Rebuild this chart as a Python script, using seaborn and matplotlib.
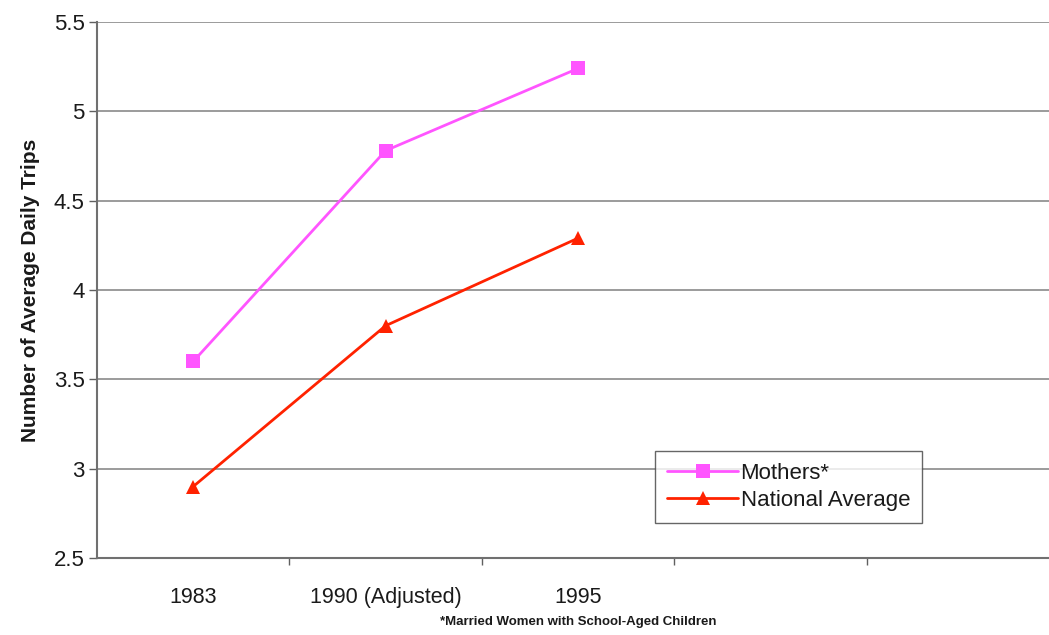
import matplotlib
matplotlib.use("Agg")
import matplotlib.pyplot as plt
import seaborn as sns
import pandas as pd
from matplotlib.ticker import FixedLocator, MultipleLocator

categories = ["1983", "1990 (Adjusted)", "1995"]
mothers = [3.6, 4.78, 5.24]
national = [2.9, 3.8, 4.29]
series_names = ["Mothers*", "National Average"]
footnote = "*Married Women with School-Aged Children"
ylabel = "Number of Average Daily Trips"

sns.set_theme(style="white")
plt.rcParams['font.family'] = ['Liberation Sans', 'DejaVu Sans']

fig = plt.figure(figsize=(10.49, 6.35), dpi=100)
W, H = 1049, 635
left, right, top, bottom = 97, 1059, 22, 558
ax = fig.add_axes([left / W, 1 - bottom / H, (right - left) / W, (bottom - top) / H])

pos = list(range(len(categories)))
df = pd.DataFrame({
    "x": pos * 2,
    "y": mothers + national,
    "s": [series_names[0]] * 3 + [series_names[1]] * 3,
})
sns.lineplot(data=df, x="x", y="y", hue="s", style="s",
             palette={series_names[0]: "#FF55FF", series_names[1]: "#FF2200"},
             markers={series_names[0]: "s", series_names[1]: "^"},
             dashes=False, markersize=10, markeredgewidth=0, linewidth=2,
             ax=ax)

ax.set_xlim(-0.5, 4.5)
ax.set_ylim(2.5, 5.5)
ax.yaxis.set_major_locator(MultipleLocator(0.5))
ax.set_yticklabels([f"{v:g}" for v in ax.get_yticks()])
ax.grid(axis="y", color="#8a8a8a", linewidth=1.2)
ax.set_axisbelow(True)

ax.set_xticks(pos)
ax.set_xticklabels(categories, fontsize=15.5, color="#1a1a1a")
ax.xaxis.set_minor_locator(FixedLocator([0.5, 1.5, 2.5, 3.5]))
ax.tick_params(axis="x", which="major", length=0, pad=21)
ax.tick_params(axis="x", which="minor", length=5, width=1, color="#606060", direction="out", bottom=True)
ax.tick_params(axis="y", length=6, width=1, color="#606060", direction="out", left=True,
               labelsize=16, labelcolor="#1a1a1a", pad=3)
for s in ["top", "right"]:
    ax.spines[s].set_visible(False)
for s in ["left", "bottom"]:
    ax.spines[s].set_color("#707070")
    ax.spines[s].set_linewidth(1.5)

ax.set_xlabel("")
ax.set_ylabel(ylabel, fontsize=15, fontweight="bold", labelpad=10, color="#1a1a1a")

leg = ax.legend(loc="upper left", bbox_to_anchor=((655 - left) / (right - left), 1 - (451 - top) / (bottom - top)),
                frameon=True, fancybox=False, fontsize=16, handlelength=3.2,
                borderpad=0.55, labelspacing=0.25, handletextpad=0.1, borderaxespad=0)
leg.get_frame().set_edgecolor("#404040")
leg.get_frame().set_linewidth(1)
for t in leg.get_texts():
    t.set_color("#1a1a1a")

fig.text(578 / W, 1 - 622 / H, footnote, fontsize=9.5, fontweight="bold", ha="center", va="center",
         color="#1a1a1a")

fig.savefig("out.png", dpi=100)
